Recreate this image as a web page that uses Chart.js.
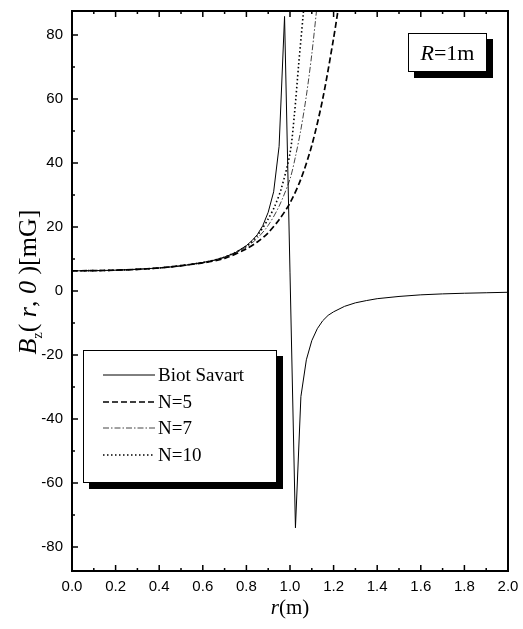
<!DOCTYPE html>
<html>
<head>
<meta charset="utf-8">
<script src="https://cdn.jsdelivr.net/npm/chart.js@4.4.1/dist/chart.umd.min.js"></script>
<style>
  html, body { margin: 0; padding: 0; background: #fff; }
  #wrap { width: 523px; height: 629px; }
</style>
</head>
<body>
<div id="wrap"><canvas id="chart" width="523" height="629"></canvas></div>
<script>
// valores (r em m, Bz em mG)
var rBiot = [0, 0.1, 0.2, 0.3, 0.4, 0.5, 0.6, 0.65, 0.7, 0.75, 0.8, 0.825, 0.85, 0.875, 0.9, 0.925, 0.95, 0.975,
             1.025, 1.05, 1.075, 1.1, 1.125, 1.15, 1.175, 1.2, 1.25, 1.3, 1.35, 1.4, 1.5, 1.6, 1.7, 1.8, 1.9, 2.0];
var bBiot = [6.3, 6.35, 6.5, 6.8, 7.2, 7.8, 8.9, 9.6, 10.6, 12.0, 14.2, 15.7, 17.6, 20.4, 24.6, 31.0, 45.2, 85.8,
             -74, -33, -21.5, -15.5, -11.8, -9.3, -7.6, -6.5, -4.8, -3.7, -3.0, -2.4, -1.7, -1.2, -0.9, -0.7, -0.55, -0.4];

var rN5 = [0, 0.2, 0.4, 0.6, 0.7, 0.8, 0.85, 0.9, 0.95, 1.0, 1.05, 1.1, 1.15, 1.2, 1.23];
var bN5 = [6.3, 6.5, 7.2, 8.8, 10.2, 13.2, 15.3, 18.2, 22.3, 27.5, 35, 45.5, 60, 79, 92];

var rN7 = [0, 0.2, 0.4, 0.6, 0.7, 0.8, 0.85, 0.9, 0.95, 1.0, 1.025, 1.05, 1.075, 1.1, 1.13];
var bN7 = [6.3, 6.5, 7.2, 8.9, 10.5, 13.8, 16.5, 20.5, 26.5, 35, 42, 50.5, 61, 74, 93];

var rN10 = [0, 0.2, 0.4, 0.6, 0.7, 0.8, 0.85, 0.9, 0.93, 0.96, 1.0, 1.02, 1.04, 1.06, 1.075];
var bN10 = [6.3, 6.5, 7.2, 8.9, 10.6, 14, 17.3, 22.5, 26.5, 32, 43, 55, 71, 86, 98];

var nomes = ["Biot Savart", "N=5", "N=7", "N=10"];
var xTicks = [0, 0.2, 0.4, 0.6, 0.8, 1.0, 1.2, 1.4, 1.6, 1.8, 2.0];
var yTicks = [-80, -60, -40, -20, 0, 20, 40, 60, 80];

function pontos(rs, bs) {
  var out = [];
  for (var i = 0; i < rs.length; i++) out.push({ x: rs[i], y: bs[i] });
  return out;
}

var serif = "'Liberation Serif', 'DejaVu Serif', serif";
var sans = "'Liberation Sans', Arial, sans-serif";

// desenha ticks para dentro, moldura, legenda e textos
var extras = {
  id: "extras",
  afterDraw: function (chart) {
    var ctx = chart.ctx;
    var a = chart.chartArea;
    var xs = chart.scales.x, ys = chart.scales.y;
    ctx.save();
    ctx.strokeStyle = "#000";
    ctx.lineWidth = 1.5;

    // ticks x (baixo e cima)
    for (var i = 0; i < xTicks.length; i++) {
      var px = xs.getPixelForValue(xTicks[i]);
      ctx.beginPath();
      ctx.moveTo(px, a.bottom); ctx.lineTo(px, a.bottom - 6);
      ctx.moveTo(px, a.top); ctx.lineTo(px, a.top + 6);
      ctx.stroke();
      if (i < xTicks.length - 1) {
        var pm = xs.getPixelForValue((xTicks[i] + xTicks[i + 1]) / 2);
        ctx.beginPath();
        ctx.moveTo(pm, a.bottom); ctx.lineTo(pm, a.bottom - 3);
        ctx.moveTo(pm, a.top); ctx.lineTo(pm, a.top + 3);
        ctx.stroke();
      }
    }
    // ticks y (esquerda)
    for (var j = 0; j < yTicks.length; j++) {
      var py = ys.getPixelForValue(yTicks[j]);
      ctx.beginPath();
      ctx.moveTo(a.left, py); ctx.lineTo(a.left + 6, py);
      ctx.stroke();
      if (j < yTicks.length - 1) {
        var pmy = ys.getPixelForValue(yTicks[j] + 10);
        ctx.beginPath();
        ctx.moveTo(a.left, pmy); ctx.lineTo(a.left + 3, pmy);
        ctx.stroke();
      }
    }

    // moldura
    ctx.lineWidth = 2;
    ctx.strokeRect(a.left, a.top, a.right - a.left, a.bottom - a.top);

    // caixa R=1m
    ctx.fillStyle = "#000";
    ctx.fillRect(414, 39, 79, 39);
    ctx.fillStyle = "#fff";
    ctx.fillRect(408, 33, 79, 39);
    ctx.lineWidth = 1;
    ctx.strokeRect(408.5, 33.5, 78, 38);
    ctx.fillStyle = "#000";
    ctx.textBaseline = "alphabetic";
    ctx.textAlign = "left";
    ctx.font = "italic 22px " + serif;
    var wR = ctx.measureText("R").width;
    ctx.font = "22px " + serif;
    var wRest = ctx.measureText("=1m").width;
    var x0 = 447.5 - (wR + wRest) / 2;
    ctx.font = "italic 22px " + serif;
    ctx.fillText("R", x0, 60);
    ctx.font = "22px " + serif;
    ctx.fillText("=1m", x0 + wR, 60);

    // legenda
    ctx.fillStyle = "#000";
    ctx.fillRect(89, 356, 194, 133);
    ctx.fillStyle = "#fff";
    ctx.fillRect(83, 350, 194, 133);
    ctx.strokeRect(83.5, 350.5, 193, 132);
    var linhasY = [375, 402, 428, 455];
    var ds = chart.data.datasets;
    for (var n = 0; n < ds.length; n++) {
      ctx.beginPath();
      ctx.strokeStyle = ds[n].borderColor;
      ctx.lineWidth = ds[n].borderWidth;
      ctx.setLineDash(ds[n].borderDash || []);
      ctx.moveTo(103, linhasY[n]);
      ctx.lineTo(155, linhasY[n]);
      ctx.stroke();
      ctx.setLineDash([]);
      ctx.fillStyle = "#000";
      ctx.font = "19px " + serif;
      ctx.textBaseline = "middle";
      ctx.fillText(nomes[n], 158, linhasY[n] + 1);
    }

    // titulo eixo x: r(m)
    ctx.textBaseline = "alphabetic";
    ctx.font = "italic 21px " + serif;
    var wr = ctx.measureText("r").width;
    ctx.font = "21px " + serif;
    var wm = ctx.measureText("(m)").width;
    var xt = 290 - (wr + wm) / 2;
    ctx.font = "italic 21px " + serif;
    ctx.fillText("r", xt, 614);
    ctx.font = "21px " + serif;
    ctx.fillText("(m)", xt + wr, 614);

    // titulo eixo y: Bz( r, 0 )[mG]
    var partes = [
      { t: "B", f: "italic 26px " + serif, dy: 0 },
      { t: "z", f: "14px " + serif, dy: 6 },
      { t: "( ", f: "26px " + serif, dy: 0 },
      { t: "r", f: "italic 26px " + serif, dy: 0 },
      { t: ", ", f: "26px " + serif, dy: 0 },
      { t: "0", f: "italic 26px " + serif, dy: 0 },
      { t: " )", f: "26px " + serif, dy: 0 },
      { t: "[mG]", f: "26px " + serif, dy: 0 }
    ];
    var total = 0;
    for (var p = 0; p < partes.length; p++) {
      ctx.font = partes[p].f;
      partes[p].w = ctx.measureText(partes[p].t).width;
      total += partes[p].w;
    }
    ctx.translate(36, 282);
    ctx.rotate(-Math.PI / 2);
    var cx = -total / 2;
    for (var q = 0; q < partes.length; q++) {
      ctx.font = partes[q].f;
      ctx.fillText(partes[q].t, cx, partes[q].dy);
      cx += partes[q].w;
    }
    ctx.restore();
  }
};

var ctx = document.getElementById("chart").getContext("2d");
var chart = new Chart(ctx, {
  type: "scatter",
  data: {
    datasets: [
      { label: nomes[0], data: pontos(rBiot, bBiot), showLine: true, borderColor: "#000", borderWidth: 1, pointRadius: 0, tension: 0 },
      { label: nomes[1], data: pontos(rN5, bN5), showLine: true, borderColor: "#000", borderWidth: 1.7, borderDash: [6, 3], pointRadius: 0, tension: 0.3 },
      { label: nomes[2], data: pontos(rN7, bN7), showLine: true, borderColor: "#444", borderWidth: 1, borderDash: [6, 2, 1.5, 2], pointRadius: 0, tension: 0.3 },
      { label: nomes[3], data: pontos(rN10, bN10), showLine: true, borderColor: "#000", borderWidth: 1.6, borderDash: [1.5, 2.5], pointRadius: 0, tension: 0.3 }
    ]
  },
  options: {
    responsive: false,
    animation: false,
    layout: { padding: { top: 11, right: 15, left: 0, bottom: 0 } },
    plugins: { legend: { display: false }, tooltip: { enabled: false } },
    scales: {
      x: {
        type: "linear", min: 0, max: 2,
        grid: { display: false, drawTicks: false },
        border: { display: false },
        afterBuildTicks: function (s) { s.ticks = xTicks.map(function (v) { return { value: v }; }); },
        afterFit: function (s) { s.height = 58; s.paddingLeft = 0; s.paddingRight = 0; },
        ticks: {
          padding: 7, color: "#000",
          font: { family: sans, size: 15 },
          maxRotation: 0,
          callback: function (v) { return v.toFixed(1); }
        }
      },
      y: {
        type: "linear", min: -87.5, max: 87.5,
        grid: { display: false, drawTicks: false },
        border: { display: false },
        afterBuildTicks: function (s) { s.ticks = yTicks.map(function (v) { return { value: v }; }); },
        afterFit: function (s) { s.width = 72; s.paddingTop = 0; s.paddingBottom = 0; },
        ticks: {
          padding: 9, color: "#000",
          font: { family: sans, size: 15 },
          callback: function (v) { return v; }
        }
      }
    }
  },
  plugins: [extras]
});
</script>
</body>
</html>
